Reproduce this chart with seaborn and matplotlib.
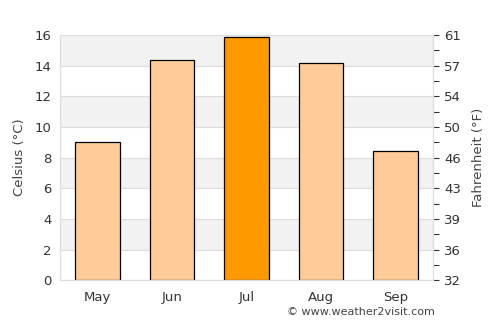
import matplotlib
matplotlib.use("Agg")
import matplotlib.pyplot as plt
import seaborn as sns
import pandas as pd

months = ["May", "Jun", "Jul", "Aug", "Sep"]
celsius = [9.05, 14.4, 15.85, 14.15, 8.4]
highlight = "Jul"
f_labels = ["32", "36", "39", "43", "46", "50", "54", "57", "61"]

sns.set_theme(style="white")
plt.rcParams['font.family'] = ['DejaVu Sans']

df = pd.DataFrame({"month": months, "c": celsius})
colors = ["#FF9900" if m == highlight else "#FFCC99" for m in months]

fig = plt.figure(figsize=(5, 3.25), dpi=100)
ax = fig.add_axes([0.12, 0.138, 0.746, 0.754])

# alternating bands
for lo in range(0, 16, 2):
    if (lo // 2) % 2 == 1:
        ax.axhspan(lo, lo + 2, color="#F2F2F2", zorder=0, lw=0)
for y in range(0, 17, 2):
    ax.axhline(y, color="#DDDDDD", lw=0.8, zorder=0.5)

sns.barplot(data=df, x="month", y="c", hue="month", palette=colors, legend=False,
            saturation=1, width=0.6, edgecolor="black", linewidth=0.9, ax=ax, zorder=2)

ax.set_xlim(-0.5, 4.5)
ax.set_ylim(0, 16)
ax.set_yticks(range(0, 17, 2))
ax.set_xlabel("")
ax.set_ylabel("Celsius (°C)", color="#444444", fontsize=9.5, labelpad=6)
tc = "#333333"
ax.tick_params(axis="y", colors=tc, labelsize=9.5, length=0, pad=6)
ax.tick_params(axis="x", colors=tc, labelsize=9.5, length=0, pad=8)
ax.spines["top"].set_visible(False)
for s in ["left", "bottom", "right"]:
    ax.spines[s].set_color("#DDDDDD")
    ax.spines[s].set_linewidth(0.8)

ax2 = ax.twinx()
ax2.set_ylim(0, 16)
ax2.set_yticks(range(0, 17, 2))
ax2.set_yticklabels(f_labels)
ax2.set_yticks(range(1, 17, 2), minor=True)
ax2.tick_params(axis="y", which="both", colors=tc, labelsize=9.5, length=4, width=0.8, pad=4)
ax2.set_ylabel("Fahrenheit (°F)", color="#444444", fontsize=9.5, labelpad=8)
ax2.spines["top"].set_visible(False)
for s in ["left", "bottom", "right"]:
    ax2.spines[s].set_color("#DDDDDD")
    ax2.spines[s].set_linewidth(0.8)

fig.text(0.87, 0.025, "© www.weather2visit.com", ha="right", va="bottom",
         fontsize=8, color="#444444")

fig.savefig("out.png", dpi=100)
